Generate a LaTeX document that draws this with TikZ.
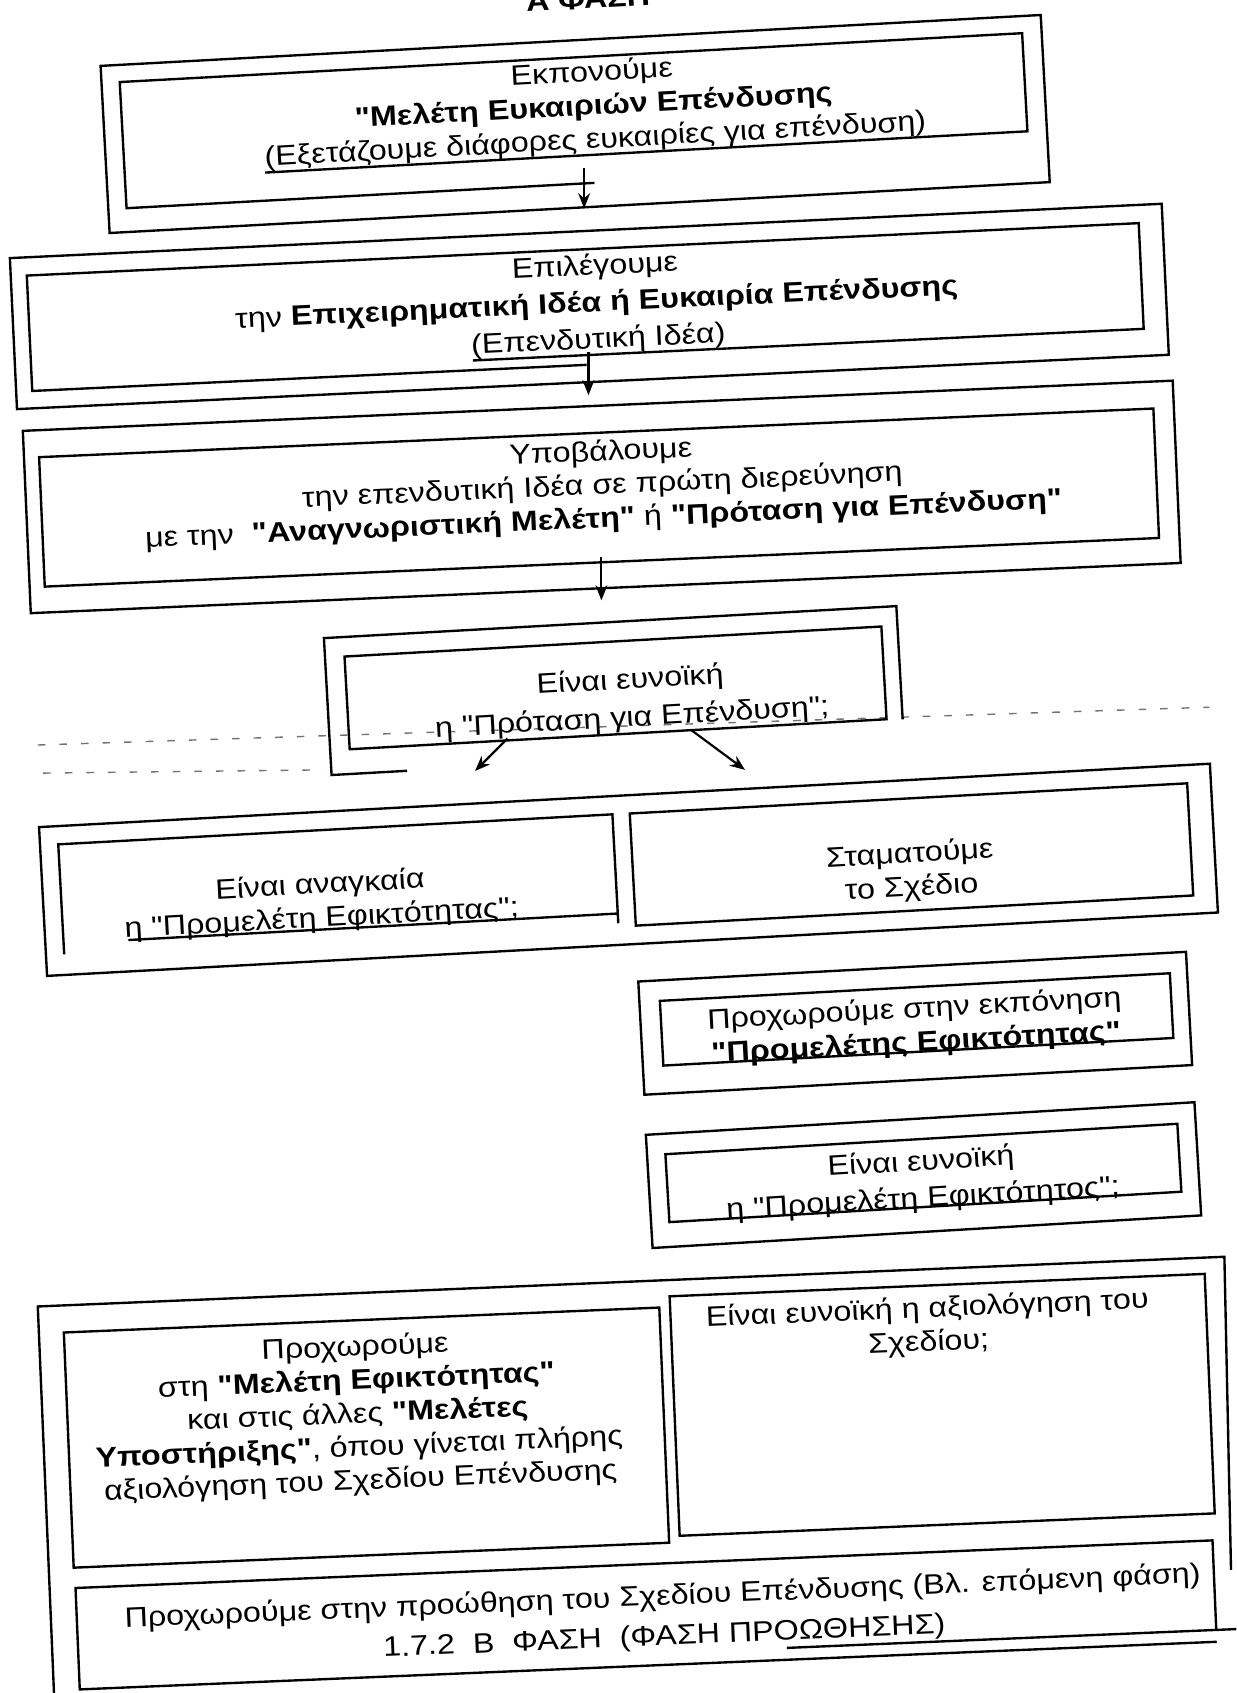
\documentclass[tikz,border=0pt]{standalone}
\usepackage{fontspec}
\setmainfont{Liberation Sans}[Ligatures=TeXOff, FakeStretch=1.15]
\usetikzlibrary{arrows.meta}
\begin{document}
\begin{tikzpicture}[x=1pt,y=-1pt,
  frame/.style={draw, line width=2.2pt, inner sep=0pt, anchor=north west},
  edge/.style={line width=2.2pt, line join=miter},
  txt/.style={align=center, inner sep=0pt, font=\fontsize{26}{31}\selectfont},
  wide/.style={font=\fontsize{26}{34}\selectfont},
  arr/.style={line width=2pt, -{Stealth[length=14pt,width=11pt]}},
  hint/.style={draw=black!55, line width=1.3pt, dash pattern=on 7pt off 13pt}]
\fill[white] (0,0) rectangle (1145,1568);
\useasboundingbox (0,0) rectangle (1145,1568);
\clip (0,0) rectangle (1145,1568);

% heading, cut by the top edge of the page
\node[font=\bfseries\fontsize{26}{31}\selectfont, anchor=base, rotate=3] (title) at (545,8) {Α ΦΑΣΗ};

% faint dashed guide lines
\coordinate (g1a) at (35,690);  \coordinate (g1b) at (1120,655);
\coordinate (g2a) at (40,716);  \coordinate (g2b) at (300,713);
\draw[hint] (g1a) -- (g1b);
\draw[hint] (g2a) -- (g2b);

% box 1
\begin{scope}[shift={(92,60)}, rotate=3.1, transform shape]
  \node[frame, minimum width=872pt, minimum height=155pt] (b1o) at (0,0) {};
  \draw[edge] (452,134) -- (18,134) -- (18,17) -- (855,17) -- (855,108) -- (148,108);
  \node[txt] (t1) at (455,64) {Εκπονούμε\\\textbf{"Μελέτη Ευκαιριών Επένδυσης}\\(Εξετάζουμε διάφορες ευκαιρίες για επένδυση)};
\end{scope}

% box 2
\begin{scope}[shift={(8,238)}, rotate=2.7, transform shape]
  \node[frame, minimum width=1068pt, minimum height=140pt] (b2o) at (0,0) {};
  \draw[edge] (530,125) -- (16,125) -- (16,18) -- (1047,18) -- (1047,116) -- (425,116);
  \node[txt, wide] (t2) at (542,69) {Επιλέγουμε\\την \textbf{Επιχειρηματική Ιδέα ή Ευκαιρία Επένδυσης}\\(Επενδυτική Ιδέα)};
\end{scope}

% box 3
\begin{scope}[shift={(20,398)}, rotate=2.5, transform shape]
  \node[frame, minimum width=1066pt, minimum height=169pt] (b3o) at (0,0) {};
  \node[frame, minimum width=1033pt, minimum height=120pt] (b3i) at (14,25) {};
  \node[txt] (t3) at (535,76) {Υποβάλουμε\\την επενδυτική Ιδέα σε πρώτη διερεύνηση\\με την\ \ \textbf{"Αναγνωριστική Μελέτη"} ή \textbf{"Πρόταση για Επένδυση"}};
\end{scope}

% box 4
\begin{scope}[shift={(300,591)}, rotate=3.2, transform shape]
  \draw[edge] (70,127) -- (0,127) -- (0,0) -- (531,0) -- (531,105);
  \node[frame, minimum width=498pt, minimum height=86pt] (b4i) at (17,17) {};
  \node[txt, font=\fontsize{26}{35}\selectfont] (t4) at (281,73) {Είναι ευνοϊκή\\η "Πρόταση για Επένδυση";};
\end{scope}

% box 5
\begin{scope}[shift={(35,765)}, rotate=3.1, transform shape]
  \node[frame, minimum width=1086pt, minimum height=138pt] (b5o) at (0,0) {};
  \draw[edge] (18,120) -- (18,18) -- (532,18) -- (532,119);
  \draw[edge] (78,110) -- (532,110);
  \node[frame, minimum width=517pt, minimum height=104pt] (b5r) at (547,17) {};
  \node[txt] (t5a) at (258,85) {Είναι αναγκαία\\η "Προμελέτη Εφικτότητας";};
  \node[txt] (t5b) at (805,86) {Σταματούμε\\το Σχέδιο};
\end{scope}

% box 6
\begin{scope}[shift={(590,908)}, rotate=3.1, transform shape]
  \node[frame, minimum width=508pt, minimum height=105pt] (b6o) at (0,0) {};
  \node[frame, minimum width=473pt, minimum height=60pt] (b6i) at (19,19) {};
  \node[txt] (t6) at (255,57) {Προχωρούμε στην εκπόνηση\\\textbf{"Προμελέτης Εφικτότητας"}};
\end{scope}

% box 7
\begin{scope}[shift={(597,1050)}, rotate=3.4, transform shape]
  \node[frame, minimum width=509pt, minimum height=105pt] (b7o) at (0,0) {};
  \node[frame, minimum width=475pt, minimum height=63pt] (b7i) at (17,19) {};
  \node[txt, wide] (t7) at (254,59) {Είναι ευνοϊκή\\η "Προμελέτη Εφικτότητος";};
\end{scope}

% box 8
\begin{scope}[shift={(35,1210)}, rotate=2.4, transform shape]
  \draw[edge] (1094,290) -- (1100,0) -- (0,0) -- (0,480);
  \node[frame, minimum width=552pt, minimum height=218pt] (b8l) at (22,24) {};
  \node[frame, minimum width=496pt, minimum height=222pt] (b8r) at (584,14) {};
  \draw[edge] (1078,345) -- (1078,262) -- (24,262) -- (24,356) -- (1078,356);
  \draw[edge] (680,345) -- (1112,345);
  \node[txt] (t8a) at (292,113) {Προχωρούμε\\στη \textbf{"Μελέτη Εφικτότητας"}\\και στις άλλες \textbf{"Μελέτες}\\\textbf{Υποστήριξης"}, όπου γίνεται πλήρης\\αξιολόγηση του Σχεδίου Επένδυσης};
  \node[txt] (t8b) at (823,53) {Είναι ευνοϊκή η αξιολόγηση του\\Σχεδίου;};
  \node[txt, font=\fontsize{26}{37}\selectfont] (t8c) at (567,312) {Προχωρούμε στην προώθηση του Σχεδίου Επένδυσης (Βλ. επόμενη φάση)\\1.7.2\ \ Β\ \ ΦΑΣΗ\ \ (ΦΑΣΗ ΠΡΟΩΘΗΣΗΣ)};
\end{scope}

% connectors
\coordinate (a1s) at (541,156); \coordinate (a1e) at (541,193);
\coordinate (a2s) at (545,326); \coordinate (a2e) at (545,366);
\coordinate (a3s) at (557,516); \coordinate (a3e) at (557,556);
\coordinate (a4s) at (470,684); \coordinate (a4e) at (440,714);
\coordinate (a5s) at (640,676); \coordinate (a5e) at (690,713);
\draw[arr] (a1s) -- (a1e);
\draw[arr] (a2s) -- (a2e);
\draw[arr] (a3s) -- (a3e);
\draw[arr] (a4s) -- (a4e);
\draw[arr] (a5s) -- (a5e);
\end{tikzpicture}
\end{document}
